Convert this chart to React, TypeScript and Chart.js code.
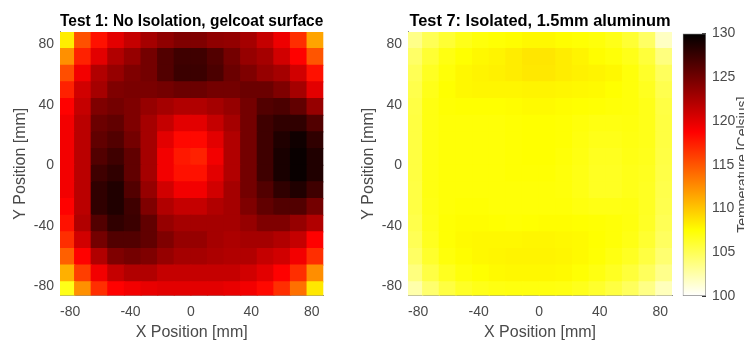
import React, { useEffect, useRef } from 'react';
import { Chart, registerables } from 'chart.js';

Chart.register(...registerables);

// ---------- data ----------
// grid cell centres (mm)
const xCenters = [-82.5, -71.5, -60.5, -49.5, -38.5, -27.5, -16.5, -5.5, 5.5, 16.5, 27.5, 38.5, 49.5, 60.5, 71.5, 82.5];
// rows listed from top (y = 82.5) to bottom (y = -82.5)
const yCenters = [82.5, 71.5, 60.5, 49.5, 38.5, 27.5, 16.5, 5.5, -5.5, -16.5, -27.5, -38.5, -49.5, -60.5, -71.5, -82.5];
const CELL = 11;

const axisTicks = [-80, -40, 0, 40, 80];
const colorTicks = [100, 105, 110, 115, 120, 125, 130];
const CMIN = 100;
const CMAX = 130;

const title1 = 'Test 1: No Isolation, gelcoat surface';
const title7 = 'Test 7: Isolated, 1.5mm aluminum';
const xLabel = 'X Position [mm]';
const yLabel = 'Y Position [mm]';
const cbLabel = 'Temperature [Celsius]';

// Temperatures (Celsius), Test 1
const test1Temps = [
  [108.3, 115.2, 118.0, 120.0, 121.3, 122.7, 123.7, 124.4, 124.4, 123.7, 123.5, 122.7, 121.3, 119.5, 116.7, 111.5],
  [112.4, 117.3, 120.0, 122.2, 123.4, 124.9, 126.4, 127.2, 127.2, 126.4, 124.9, 123.4, 122.7, 120.8, 118.7, 115.0],
  [115.3, 119.3, 122.2, 123.4, 124.4, 124.9, 126.4, 127.4, 127.4, 126.7, 125.3, 124.4, 123.4, 122.7, 120.8, 118.0],
  [117.3, 120.8, 122.7, 124.4, 124.6, 124.6, 124.9, 125.3, 125.3, 124.9, 124.9, 125.3, 125.3, 124.4, 122.7, 120.0],
  [118.7, 121.3, 124.4, 124.9, 124.4, 123.4, 122.7, 122.2, 122.2, 122.7, 123.4, 124.9, 126.4, 126.7, 125.7, 123.4],
  [119.3, 121.8, 125.3, 125.7, 124.4, 122.7, 121.3, 120.0, 120.0, 121.3, 122.7, 124.9, 127.2, 127.9, 127.9, 126.4],
  [119.3, 121.8, 125.7, 126.4, 124.9, 122.7, 120.0, 118.4, 118.4, 120.0, 122.2, 124.9, 127.2, 128.6, 129.3, 127.9],
  [119.3, 121.8, 126.4, 127.2, 125.7, 122.7, 119.3, 117.7, 117.3, 119.3, 122.2, 124.9, 127.2, 128.9, 129.6, 128.6],
  [119.3, 121.8, 127.2, 127.9, 125.7, 122.7, 119.3, 118.0, 118.0, 120.0, 122.2, 124.9, 127.2, 128.9, 129.6, 128.6],
  [119.3, 121.8, 127.9, 128.6, 126.4, 123.4, 120.8, 119.3, 119.3, 120.8, 122.7, 124.9, 126.4, 127.9, 128.6, 127.2],
  [118.7, 121.8, 127.9, 128.6, 127.2, 124.4, 122.2, 121.3, 121.3, 122.2, 122.7, 124.4, 125.7, 126.4, 126.4, 124.9],
  [118.0, 122.2, 126.4, 127.9, 127.4, 125.7, 123.4, 122.7, 122.7, 122.7, 122.7, 123.4, 124.4, 124.4, 123.4, 122.2],
  [116.7, 120.8, 124.9, 126.4, 126.4, 125.7, 124.4, 123.4, 123.4, 122.7, 122.4, 122.7, 122.7, 122.2, 121.3, 118.7],
  [114.5, 118.7, 122.2, 124.4, 124.9, 124.4, 123.4, 122.7, 122.7, 122.4, 122.2, 122.2, 121.3, 120.8, 119.3, 116.7],
  [111.0, 116.0, 119.3, 121.3, 122.2, 122.2, 121.3, 121.3, 121.3, 121.3, 121.3, 120.8, 120.0, 118.7, 116.7, 112.5],
  [106.8, 112.4, 116.7, 118.7, 119.3, 119.7, 120.0, 120.0, 120.0, 120.0, 119.7, 119.3, 118.4, 116.7, 113.8, 108.5],
];

// Temperatures (Celsius), Test 7
const test7Temps = [
  [103.5, 105.0, 106.0, 106.8, 107.2, 107.4, 107.6, 107.8, 107.8, 107.6, 107.4, 107.2, 106.8, 106.0, 104.6, 101.8],
  [104.5, 106.0, 107.0, 107.5, 107.8, 108.0, 108.3, 108.6, 108.6, 108.3, 108.0, 107.6, 107.3, 106.8, 105.8, 103.8],
  [105.0, 106.5, 107.3, 107.8, 108.0, 108.1, 108.3, 108.5, 108.5, 108.3, 108.1, 108.0, 107.8, 107.2, 106.3, 104.8],
  [105.3, 106.8, 107.5, 107.8, 107.9, 107.9, 107.9, 108.0, 108.0, 107.9, 107.8, 107.7, 107.5, 107.2, 106.6, 105.2],
  [105.5, 107.0, 107.4, 107.5, 107.5, 107.5, 107.6, 107.7, 107.7, 107.6, 107.5, 107.4, 107.3, 107.2, 106.8, 105.5],
  [105.6, 107.0, 107.3, 107.3, 107.3, 107.3, 107.4, 107.5, 107.5, 107.4, 107.2, 107.0, 107.0, 107.1, 106.8, 105.6],
  [105.6, 107.0, 107.3, 107.3, 107.3, 107.3, 107.4, 107.5, 107.5, 107.4, 107.1, 106.8, 106.8, 107.0, 106.8, 105.6],
  [105.6, 107.0, 107.3, 107.3, 107.3, 107.3, 107.4, 107.5, 107.5, 107.3, 107.0, 106.6, 106.6, 106.9, 106.7, 105.5],
  [105.6, 107.0, 107.3, 107.3, 107.3, 107.3, 107.4, 107.4, 107.4, 107.2, 106.9, 106.5, 106.5, 106.8, 106.6, 105.4],
  [105.5, 107.0, 107.3, 107.3, 107.3, 107.3, 107.3, 107.3, 107.3, 107.2, 106.9, 106.5, 106.5, 106.8, 106.5, 105.3],
  [105.5, 106.9, 107.3, 107.4, 107.4, 107.3, 107.3, 107.3, 107.3, 107.3, 107.1, 106.9, 106.9, 107.0, 106.5, 105.2],
  [105.3, 106.8, 107.4, 107.6, 107.6, 107.5, 107.4, 107.5, 107.6, 107.6, 107.5, 107.4, 107.3, 107.1, 106.4, 105.0],
  [105.0, 106.6, 107.4, 107.7, 107.8, 107.8, 107.8, 107.9, 107.9, 107.8, 107.7, 107.5, 107.3, 106.9, 106.1, 104.7],
  [104.6, 106.2, 107.2, 107.6, 107.8, 107.9, 108.0, 108.0, 108.0, 107.9, 107.7, 107.4, 107.0, 106.5, 105.6, 104.2],
  [103.8, 105.5, 106.6, 107.2, 107.5, 107.7, 107.8, 107.8, 107.8, 107.7, 107.4, 107.0, 106.5, 105.8, 104.8, 103.4],
  [102.5, 104.3, 105.6, 106.4, 106.8, 107.0, 107.1, 107.1, 107.1, 107.0, 106.7, 106.2, 105.6, 104.8, 103.6, 102.0],
];

// ---------- styling ----------
const FONT = "'Liberation Sans', Arial, Helvetica, sans-serif";
const TICK_COLOR = '#4a4a4a';
const AXIS_COLOR = '#8a8a8a';
const X_MIN = -86.7;
const X_MAX = 87.7;
const Y_MIN = -86;
const Y_MAX = 88;

// reversed MATLAB "hot" colormap: 100 = white ... 130 = black
function hotColor(v: number): string {
  const t = Math.min(1, Math.max(0, (v - CMIN) / (CMAX - CMIN)));
  const s = 1 - t;
  const r = Math.min(1, s / 0.375);
  const g = Math.min(1, Math.max(0, (s - 0.375) / 0.375));
  const b = Math.min(1, Math.max(0, (s - 0.75) / 0.25));
  return `rgb(${Math.round(r * 255)},${Math.round(g * 255)},${Math.round(b * 255)})`;
}
const hotBreaks = [0, 0.25, 0.625, 1];

function buildCells(temps: number[][]) {
  const cells: { x: number; y: [number, number]; v: number }[] = [];
  temps.forEach((row, r) => {
    row.forEach((v, c) => {
      cells.push({ x: xCenters[c], y: [yCenters[r] - CELL / 2, yCenters[r] + CELL / 2], v });
    });
  });
  return cells;
}

function heatmapConfig(title: string, temps: number[][], padLeft: number, padRight: number): any {
  return {
    type: 'bar',
    data: {
      datasets: [
        {
          data: buildCells(temps),
          backgroundColor: (c: any) => hotColor(c.raw ? c.raw.v : CMIN),
          borderWidth: 0,
          barPercentage: 1,
          categoryPercentage: 1,
          inflateAmount: 0.6,
          clip: 0,
        },
      ],
    },
    options: {
      animation: false,
      responsive: false,
      events: [],
      layout: { padding: { left: padLeft, right: padRight, top: 0, bottom: 0 } },
      plugins: {
        legend: { display: false },
        tooltip: { enabled: false },
        title: {
          display: true,
          text: title,
          fullSize: false,
          color: '#000',
          font: { family: FONT, size: 16.4, weight: 'bold', lineHeight: 1.2 },
          padding: { top: 11.2, bottom: 1.1 },
        },
      },
      scales: {
        x: {
          type: 'linear',
          min: X_MIN,
          max: X_MAX,
          offset: false,
          z: 1,
          afterBuildTicks: (s: any) => {
            s.ticks = axisTicks.map((v) => ({ value: v }));
          },
          afterFit: (s: any) => {
            s.height = 44.5;
          },
          grid: { display: false, drawTicks: false },
          border: { display: true, color: AXIS_COLOR, width: 1 },
          ticks: { color: TICK_COLOR, font: { family: FONT, size: 14 }, padding: 8, maxRotation: 0, autoSkip: false },
          title: { display: true, text: xLabel, color: TICK_COLOR, font: { family: FONT, size: 16, lineHeight: 0.95 }, padding: 0 },
        },
        y: {
          type: 'linear',
          min: Y_MIN,
          max: Y_MAX,
          z: 1,
          afterBuildTicks: (s: any) => {
            s.ticks = axisTicks.map((v) => ({ value: v }));
          },
          afterFit: (s: any) => {
            s.width = 60;
          },
          grid: { display: false, drawTicks: false },
          border: { display: true, color: AXIS_COLOR, width: 1 },
          ticks: { color: TICK_COLOR, font: { family: FONT, size: 14 }, padding: 6, autoSkip: false },
          title: { display: true, text: yLabel, color: TICK_COLOR, font: { family: FONT, size: 16, lineHeight: 0.95 }, padding: { top: 13, bottom: 0 } },
        },
      },
    },
  };
}

const colorbarTitlePlugin = {
  id: 'colorbarTitle',
  afterDraw(chart: any) {
    const { ctx, chartArea } = chart;
    ctx.save();
    ctx.translate(743, (chartArea.top + chartArea.bottom) / 2);
    ctx.rotate(-Math.PI / 2);
    ctx.font = `14px ${FONT}`;
    ctx.fillStyle = TICK_COLOR;
    ctx.textAlign = 'center';
    ctx.textBaseline = 'middle';
    ctx.fillText(cbLabel, 0, 0);
    ctx.restore();
  },
};

function colorbarConfig(): any {
  return {
    type: 'bar',
    data: {
      labels: [''],
      datasets: [
        {
          data: [[CMIN, CMAX]],
          backgroundColor: (c: any) => {
            const area = c.chart.chartArea;
            if (!area) return '#fff';
            const g = c.chart.ctx.createLinearGradient(0, area.bottom, 0, area.top);
            hotBreaks.forEach((p) => g.addColorStop(p, hotColor(CMIN + p * (CMAX - CMIN))));
            return g;
          },
          borderColor: '#8a8a8a',
          borderWidth: 1,
          borderSkipped: false,
          barPercentage: 1,
          categoryPercentage: 1,
        },
      ],
    },
    plugins: [colorbarTitlePlugin],
    options: {
      animation: false,
      responsive: false,
      events: [],
      layout: { padding: { left: 682.7, right: 0, top: 33.5, bottom: 44 } },
      plugins: { legend: { display: false }, tooltip: { enabled: false }, title: { display: false } },
      scales: {
        x: { display: false },
        y: {
          position: 'right',
          min: CMIN,
          max: CMAX,
          afterBuildTicks: (s: any) => {
            s.ticks = colorTicks.map((v) => ({ value: v }));
          },
          afterFit: (s: any) => {
            s.width = 38;
          },
          grid: { display: true, drawOnChartArea: false, drawTicks: true, tickLength: -4, color: '#333' },
          border: { display: false },
          ticks: { color: TICK_COLOR, font: { family: FONT, size: 14 }, padding: 10, autoSkip: false },
        },
      },
    },
  };
}

function ChartCanvas({ config }: { config: () => any }) {
  const ref = useRef<HTMLCanvasElement | null>(null);
  useEffect(() => {
    if (!ref.current) return;
    const chart = new Chart(ref.current, config());
    return () => chart.destroy();
  }, [config]);
  return (
    <canvas
      ref={ref}
      width={744}
      height={340}
      style={{ position: 'absolute', left: 0, top: 0, width: 744, height: 340 }}
    />
  );
}

const cfg1 = () => heatmapConfig(title1, test1Temps, 0, 744 - 323.3);
const cfg7 = () => heatmapConfig(title7, test7Temps, 348, 744 - 672);
const cfgBar = () => colorbarConfig();

export default function App() {
  return (
    <div style={{ position: 'fixed', left: 0, top: 0, width: 744, height: 340, background: '#fff', overflow: 'hidden' }}>
      <ChartCanvas config={cfg1} />
      <ChartCanvas config={cfg7} />
      <ChartCanvas config={cfgBar} />
    </div>
  );
}
